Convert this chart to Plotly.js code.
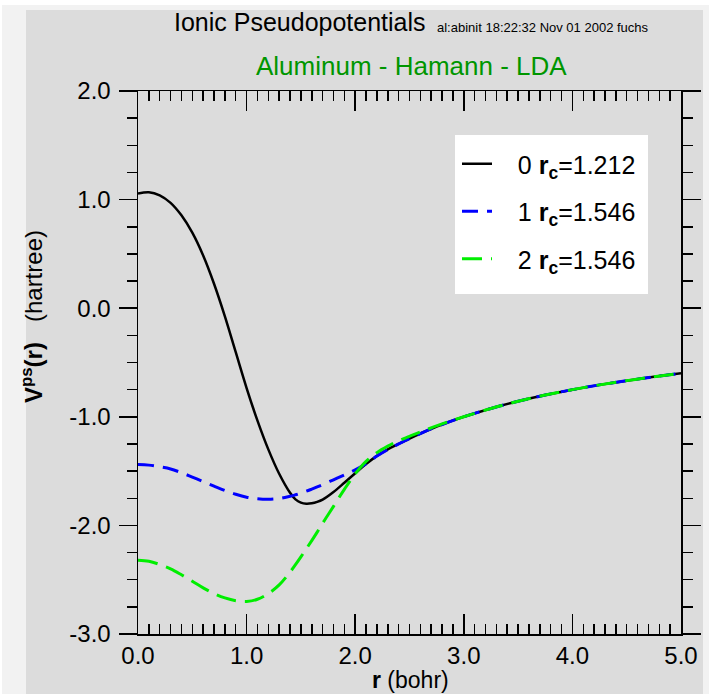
<!DOCTYPE html>
<html>
<head>
<meta charset="utf-8">
<script src="https://cdn.plot.ly/plotly-3.0.1.min.js"></script>
<style>html,body{margin:0;padding:0;background:#fff;}#chart{width:711px;height:694px;}</style>
</head>
<body>
<div id="chart"></div>
<script>
// radius (bohr)
const r_near = [0.0,0.1,0.2,0.3,0.4,0.5,0.6,0.7,0.8,0.9,1.0,1.1,1.2,1.3,1.4,1.45,1.5,1.55,1.6,1.65,1.7,1.8,1.9,2.0,2.1,2.2,2.3,2.4,2.5,2.6,2.8,3.0,3.25,3.5,3.75,4.0,4.25,4.5,4.75,5.0];
// l = 0, rc = 1.212
const v_l0 = [1.055,1.068,1.040,0.970,0.855,0.695,0.485,0.225,-0.075,-0.405,-0.735,-1.035,-1.300,-1.525,-1.700,-1.760,-1.790,-1.800,-1.796,-1.783,-1.762,-1.692,-1.607,-1.520,-1.435,-1.360,-1.300,-1.250,-1.200,-1.154,-1.071,-1.000,-0.923,-0.857,-0.800,-0.750,-0.706,-0.667,-0.632,-0.600];
// l = 1, rc = 1.546
const v_l1 = [-1.440,-1.445,-1.460,-1.480,-1.515,-1.555,-1.597,-1.638,-1.678,-1.713,-1.740,-1.755,-1.760,-1.752,-1.732,-1.718,-1.702,-1.685,-1.666,-1.646,-1.625,-1.580,-1.535,-1.488,-1.432,-1.362,-1.302,-1.250,-1.200,-1.154,-1.071,-1.000,-0.923,-0.857,-0.800,-0.750,-0.706,-0.667,-0.632,-0.600];
// l = 2, rc = 1.546
const v_l2 = [-2.320,-2.330,-2.360,-2.400,-2.455,-2.515,-2.575,-2.628,-2.668,-2.693,-2.700,-2.680,-2.628,-2.548,-2.430,-2.362,-2.290,-2.215,-2.140,-2.062,-1.980,-1.825,-1.668,-1.525,-1.410,-1.330,-1.270,-1.220,-1.180,-1.140,-1.065,-1.000,-0.923,-0.857,-0.800,-0.750,-0.706,-0.667,-0.632,-0.600];

const seriesNames = ['&nbsp;&nbsp;&nbsp;0 <b>r</b><sub><b>c</b></sub>=1.212','&nbsp;&nbsp;&nbsp;1 <b>r</b><sub><b>c</b></sub>=1.546','&nbsp;&nbsp;&nbsp;2 <b>r</b><sub><b>c</b></sub>=1.546'];
const xTickVals = [0,1,2,3,4,5];
const xTickText = ['0.0','1.0','2.0','3.0','4.0','5.0'];
const yTickVals = [-3,-2,-1,0,1,2];
const yTickText = ['-3.0','-2.0','-1.0','0.0','1.0','2.0'];

const FONT = 'Liberation Sans, Arial, Helvetica, sans-serif';

const traces = [
  {x:r_near, y:v_l0, name:seriesNames[0], legendgroup:'a', mode:'lines', line:{color:'#000000', width:2.5, shape:'spline', smoothing:1}},
  {x:r_near, y:v_l1, name:seriesNames[1], legendgroup:'b', mode:'lines', line:{color:'#0000ff', width:3, dash:'16px,9px', shape:'spline', smoothing:1}},
  {x:r_near, y:v_l2, name:seriesNames[2], legendgroup:'c', mode:'lines', line:{color:'#00ee00', width:3, dash:'20px,9px', shape:'spline', smoothing:1}}
];

const axisCommon = {
  showgrid:false, zeroline:false, showline:true, linecolor:'#000', linewidth:1.5,
  mirror:'ticks', tickcolor:'#000', tickwidth:1.5,
  tickfont:{family:FONT, size:24, color:'#000'}
};

const px2x = p => (p - 138) / 543;
const py2y = p => (634 - p) / 543;

const layout = {
  width:711, height:694,
  margin:{l:138, r:30, t:91, b:60, pad:0},
  paper_bgcolor:'#ffffff', plot_bgcolor:'#dcdcdc',
  font:{family:FONT, color:'#000'},
  showlegend:true,
  legend:{x:px2x(457), y:py2y(141), xanchor:'left', yanchor:'top', bgcolor:'rgba(0,0,0,0)', borderwidth:0,
          font:{family:FONT, size:25, color:'#000'}, traceorder:'grouped', tracegroupgap:12, itemwidth:30},
  xaxis:Object.assign({}, axisCommon, {
    range:[0,5], tickmode:'array', tickvals:xTickVals, ticktext:xTickText,
    ticks:'inside', ticklen:20,
    minor:{dtick:0.1, tick0:0, ticks:'inside', ticklen:10, tickwidth:1.5, tickcolor:'#000', showgrid:false}
  }),
  yaxis:Object.assign({}, axisCommon, {
    range:[-3,2], tickmode:'array', tickvals:yTickVals, ticktext:yTickText,
    ticks:'outside', ticklen:18, ticklabelstandoff:3,
    minor:{dtick:0.25, tick0:0, ticks:'outside', ticklen:10, tickwidth:1.5, tickcolor:'#000', showgrid:false}
  }),
  shapes:[
    {type:'rect', xref:'paper', yref:'paper', x0:px2x(2), x1:px2x(709), y0:py2y(700), y1:py2y(5),
     fillcolor:'#f2f2f2', line:{width:0}, layer:'below'},
    {type:'rect', xref:'paper', yref:'paper', x0:px2x(26), x1:px2x(703), y0:py2y(700), y1:py2y(10),
     fillcolor:'#dcdcdc', line:{width:0}, layer:'below'},
    {type:'rect', xref:'paper', yref:'paper', x0:px2x(455), x1:px2x(648), y0:py2y(294), y1:py2y(135),
     fillcolor:'#ffffff', line:{width:0}, layer:'above'}
  ],
  annotations:[
    {text:'Ionic Pseudopotentials', xref:'paper', yref:'paper', x:px2x(172), y:py2y(22),
     xanchor:'left', yanchor:'middle', showarrow:false, font:{family:FONT, size:25, color:'#000'}},
    {text:'al:abinit 18:22:32 Nov 01 2002 fuchs', xref:'paper', yref:'paper', x:px2x(435), y:py2y(27),
     xanchor:'left', yanchor:'middle', showarrow:false, font:{family:FONT, size:13, color:'#000'}},
    {text:'Aluminum - Hamann - LDA', xref:'paper', yref:'paper', x:px2x(411), y:py2y(66),
     xanchor:'center', yanchor:'middle', showarrow:false, font:{family:FONT, size:26, color:'#009600'}},
    {text:'<b>r</b> (bohr)', xref:'paper', yref:'paper', x:px2x(410), y:py2y(680),
     xanchor:'center', yanchor:'middle', showarrow:false, font:{family:FONT, size:23, color:'#000'}},
    {text:'<b>V<sup>ps</sup>(r)</b>&nbsp;&nbsp;&nbsp;(hartree)', xref:'paper', yref:'paper', x:px2x(32), y:py2y(317),
     xanchor:'center', yanchor:'middle', textangle:-90, showarrow:false, font:{family:FONT, size:24, color:'#000'}}
  ]
};

Plotly.newPlot('chart', traces, layout, {displayModeBar:false, staticPlot:true});
</script>
</body>
</html>
